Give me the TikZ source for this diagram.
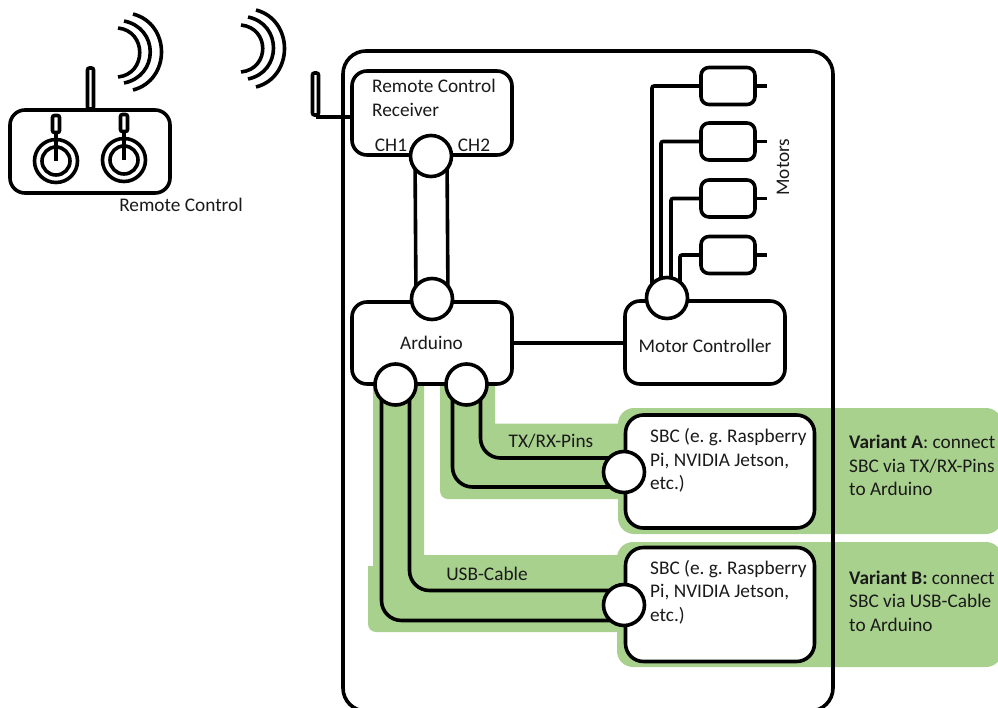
\documentclass[tikz,border=0pt]{standalone}
\usepackage{fontspec}
\setmainfont{Carlito}
\usetikzlibrary{calc,backgrounds}
\definecolor{halo}{HTML}{A9D18E}
\definecolor{ink}{HTML}{1A1A1A}
\pgfdeclarelayer{greenlayer}
\pgfdeclarelayer{wirelayer}
\pgfsetlayers{greenlayer,wirelayer,main}
\frenchspacing
\tikzset{
  ln/.style={line width=3.6pt,draw=black},
  box/.style={ln,rounded corners=15pt,fill=white,inner sep=0pt},
  port/.style={ln,circle,fill=white,minimum size=41pt,inner sep=0pt},
  wire/.style={ln,rounded corners=20pt},
  bar/.style={ln,rounded corners=2pt,fill=white,inner sep=0pt},
  txt/.style={font=\fontsize{19.3pt}{23.5pt}\selectfont,text=ink,inner sep=0pt},
  ltxt/.style={txt,anchor=north west,align=left},
  green/.style={fill=halo,draw=none}
}
\begin{document}
\begin{tikzpicture}[x=1pt,y=-1pt]
\useasboundingbox (0,0) rectangle (998,707);

% Remote control
\node[bar,minimum width=6pt,minimum height=41pt] (rcant) at (90.5,88.5) {};
\node[box,minimum width=160pt,minimum height=83pt] (rc) at (90,151.5) {};
\node[bar,minimum width=7pt,minimum height=17pt] (st1) at (56,124) {};
\node[bar,minimum width=7pt,minimum height=17pt] (st2) at (124,123) {};
\node[ln,circle,minimum size=43pt,inner sep=0pt] (j1o) at (56,161) {};
\node[ln,circle,minimum size=28pt,inner sep=0pt] (j1i) at (56,161) {};
\node[ln,circle,minimum size=43pt,inner sep=0pt] (j2o) at (124,160) {};
\node[ln,circle,minimum size=28pt,inner sep=0pt] (j2i) at (124,160) {};
\draw[ln] (st1.south) -- (j1i.center);
\draw[ln] (st2.south) -- (j2i.center);
\node[txt] (rclabel) at (181,204.5) {Remote Control};

% Radio waves
\draw[ln] (118,28) .. controls (147,31) and (147,74) .. (118,77);
\draw[ln] (124,21) .. controls (159,28) and (159,76) .. (124,83);
\draw[ln] (133,14) .. controls (171,24) and (171,80) .. (133,90);
\draw[ln] (241,25) .. controls (270,28) and (270,69) .. (241,72);
\draw[ln] (248,17) .. controls (282,24) and (282,72) .. (248,79);
\draw[ln] (256,10) .. controls (294,20) and (294,77) .. (256,87);

% Housing
\draw[ln,rounded corners=23pt] (343,51) rectangle (833,711);

% Receiver
\node[bar,minimum width=6pt,minimum height=42pt] (rxant) at (315.5,94) {};
\node[box,minimum width=160pt,minimum height=84pt] (rx) at (432,113) {};
\node[ltxt] (rxl) at (372,79) {Remote Control\\Receiver};
\node[txt] (ch1) at (391,145) {CH1};
\node[txt] (ch2) at (474,145) {CH2};
\node[port] (prx) at (431,156) {};

% Arduino
\node[box,minimum width=160pt,minimum height=82pt] (ard) at (432,343) {};
\node[txt] (ardl) at (431.5,343) {Arduino};
\node[port] (pard) at (432,299) {};
\node[port] (pusb) at (395.5,384.5) {};
\node[port] (ptx) at (466.5,384.5) {};

% Motor controller
\node[box,minimum width=160pt,minimum height=83pt] (mc) at (705,342.5) {};
\node[txt] (mcl) at (705,346) {Motor Controller};
\node[port] (pmc) at (667,298) {};

% Motors
\node[box,rounded corners=8pt,minimum width=54pt,minimum height=37pt] (m1) at (728,86) {};
\node[box,rounded corners=8pt,minimum width=54pt,minimum height=37pt] (m2) at (728,141.5) {};
\node[box,rounded corners=8pt,minimum width=54pt,minimum height=37pt] (m3) at (728,198.5) {};
\node[box,rounded corners=8pt,minimum width=54pt,minimum height=37pt] (m4) at (728,255) {};
\node[txt,rotate=90] (ml) at (783,167) {Motors};

% SBCs
\node[box,rounded corners=18pt,minimum width=189pt,minimum height=113pt] (sa) at (720,471.5) {};
\node[box,rounded corners=18pt,minimum width=189pt,minimum height=114pt] (sb) at (720,604.5) {};
\node[ltxt] (sal) at (650,428.5) {SBC (e. g. Raspberry\\Pi, NVIDIA Jetson,\\etc.)};
\node[ltxt] (sbl) at (650,560) {SBC (e. g. Raspberry\\Pi, NVIDIA Jetson,\\etc.)};
\node[port] (psa) at (624,472) {};
\node[port] (psb) at (624,605) {};

% Labels
\node[txt] (txl) at (551,441) {TX/RX-Pins};
\node[txt] (usbl) at (487,574) {USB-Cable};
\node[ltxt] (va) at (849,435) {\textbf{Variant A}: connect\\SBC via TX/RX-Pins\\to Arduino};
\node[ltxt] (vb) at (849,570.5) {\textbf{Variant B:} connect\\SBC via USB-Cable\\to Arduino};

\begin{pgfonlayer}{wirelayer}
  \draw[ln] (rcant.south) -- (rc.north);
  \draw[ln] (rxant.south) -- (rx.west|-rxant.south);
  \draw[ln] ($(prx)+(-16,0)$) -- ($(pard)+(-16,0)$);
  \draw[ln] ($(prx)+(16,0)$) -- ($(pard)+(16,0)$);
  \draw[ln] (ard.east) -- (ard.east-|mc.west);
  \foreach \dx/\m in {-15/m1,-6/m2,4/m3,13/m4}{
    \draw[ln,rounded corners=2pt] ($(pmc)+(\dx,0)$) |- (\m.west);
    \draw[ln] (\m.east) -- ++(10,0);
  }
  \draw[wire] ($(ptx)+(14,0)$) |- ($(psa)+(0,-14)$);
  \draw[wire] ($(ptx)+(-14,0)$) |- ($(psa)+(0,15)$);
  \draw[wire] ($(pusb)+(14,0)$) |- ($(psb)+(0,-14.5)$);
  \draw[wire] ($(pusb)+(-14,0)$) |- ($(psb)+(0,15.5)$);
\end{pgfonlayer}

\begin{pgfonlayer}{greenlayer}
  \fill[green,rounded corners=16pt] (618,408) rectangle (1002,534);
  \fill[green,rounded corners=16pt] (617,542) rectangle (1002,667);
  \fill[green] (440,384) [rounded corners=8pt]-- (440,499) [sharp corners]-- (640,499) -- (640,423.5) -- (495,423.5) -- (495,384) -- cycle;
  \fill[green] (373,384) -- (373,566) -- (368,566) [rounded corners=8pt]-- (368,632) [sharp corners]-- (640,632) -- (640,555) -- (424,555) -- (424,384) -- cycle;
\end{pgfonlayer}
\end{tikzpicture}
\end{document}
